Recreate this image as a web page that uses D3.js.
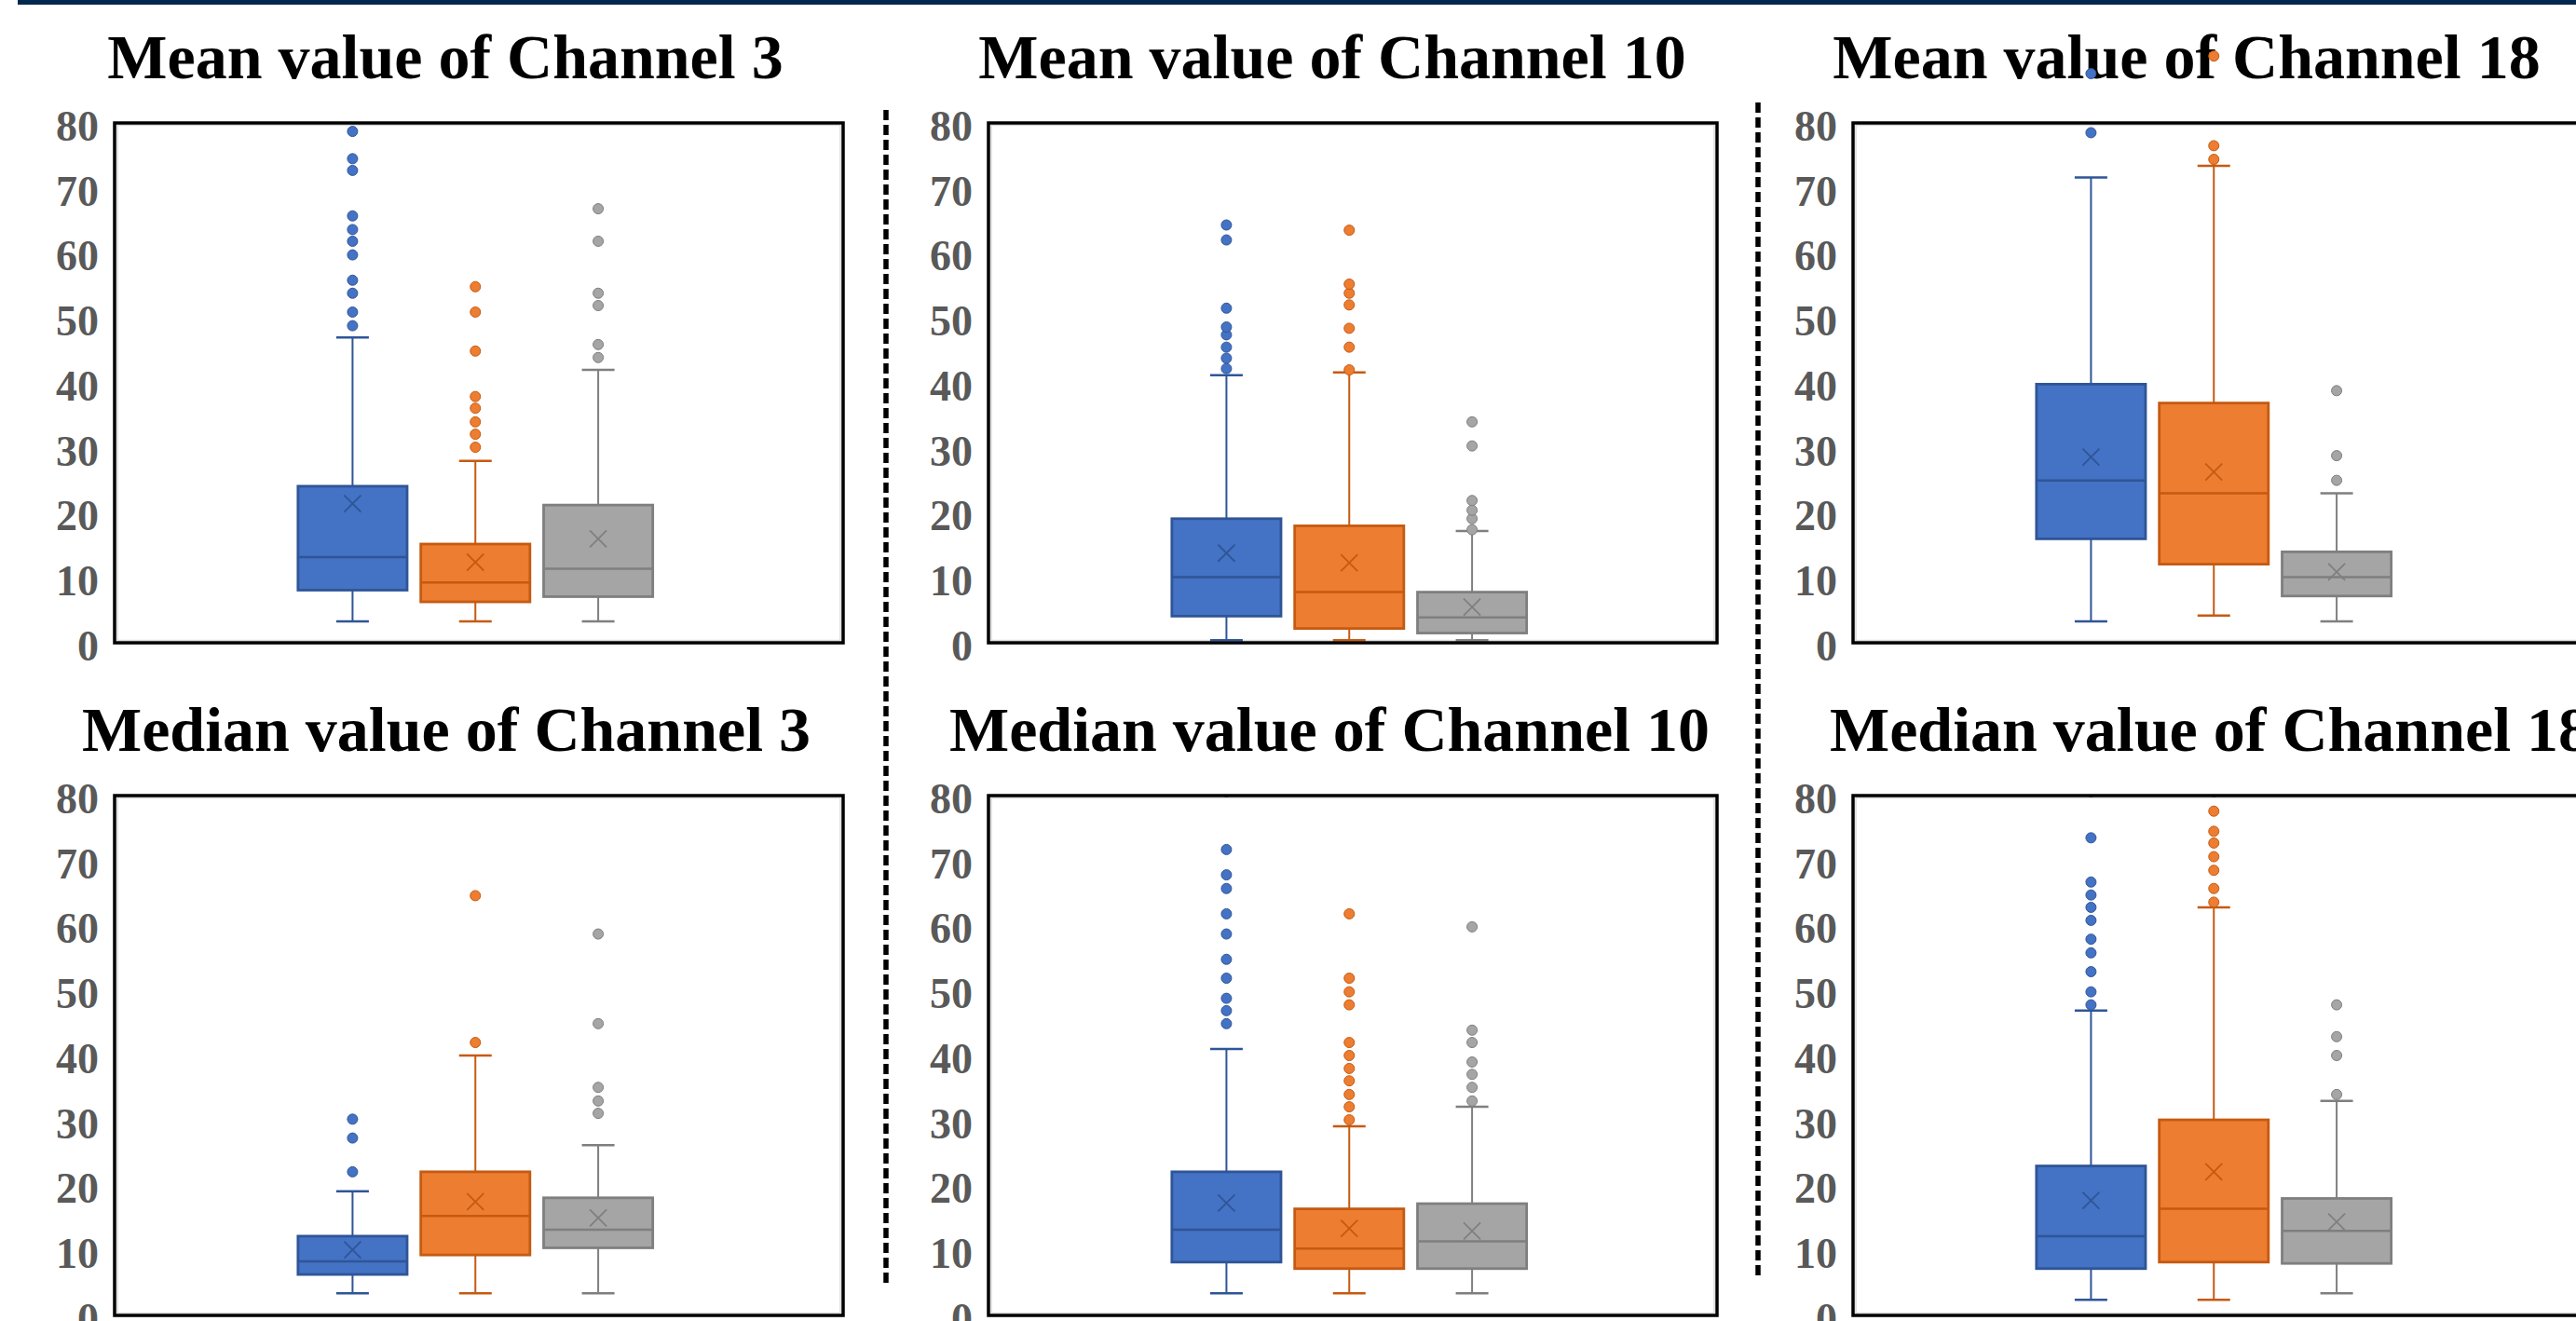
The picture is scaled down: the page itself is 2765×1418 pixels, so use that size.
<!DOCTYPE html>
<html>
<head>
<meta charset="utf-8">
<script src="https://cdn.jsdelivr.net/npm/d3@7"></script>
<style>
  body { margin: 0; background: #fff; }
  svg { display: block; }
  text { font-family: "Liberation Serif", "Times New Roman", serif; font-weight: bold; }
</style>
</head>
<body>
<div id="chart"></div>
<script>
// three groups per panel, no legend in the original
const seriesNames = ["Group A", "Group B", "Group C"];
const yTicks = [0, 10, 20, 30, 40, 50, 60, 70, 80];

const panelTitles = [
    "Mean value of Channel 3", "Mean value of Channel 10", "Mean value of Channel 18",
    "Median value of Channel 3", "Median value of Channel 10", "Median value of Channel 18"
];

// lo / hi = whisker ends, out = outliers
const meanCh3 = [
    { lo: 3.3, q1: 8.1, med: 13.2, q3: 24.1, hi: 47.0, mean: 21.4, out: [48.8, 50.9, 53.8, 55.8, 59.7, 61.8, 63.6, 65.7, 72.7, 74.5, 78.7] },
    { lo: 3.3, q1: 6.3, med: 9.3, q3: 15.2, hi: 28.0, mean: 12.4, out: [30.1, 32.1, 34.0, 36.1, 37.9, 44.9, 50.9, 54.8] },
    { lo: 3.3, q1: 7.1, med: 11.4, q3: 21.2, hi: 42.0, mean: 16.0, out: [43.9, 45.9, 51.9, 53.8, 61.8, 66.8] }
];
const meanCh10 = [
    { lo: 0.4, q1: 4.1, med: 10.1, q3: 19.1, hi: 41.2, mean: 13.8, out: [42.2, 43.8, 45.5, 47.4, 48.6, 51.5, 62.0, 64.3] },
    { lo: 0.4, q1: 2.2, med: 7.8, q3: 18.0, hi: 41.6, mean: 12.3, out: [42.0, 45.5, 48.4, 52.0, 53.8, 55.2, 63.5] },
    { lo: 0.4, q1: 1.5, med: 3.9, q3: 7.8, hi: 17.2, mean: 5.5, out: [17.4, 19.1, 20.4, 21.9, 30.3, 34.0] }
];
const meanCh18 = [
    { lo: 3.3, q1: 16.0, med: 25.0, q3: 39.8, hi: 71.6, mean: 28.6, out: [78.5, 87.6] },
    { lo: 4.2, q1: 12.1, med: 23.0, q3: 36.9, hi: 73.4, mean: 26.3, out: [74.4, 76.5, 90.3] },
    { lo: 3.3, q1: 7.2, med: 10.1, q3: 14.0, hi: 23.0, mean: 10.9, out: [25.0, 28.8, 38.8] }
];
const medianCh3 = [
    { lo: 3.4, q1: 6.3, med: 8.3, q3: 12.2, hi: 19.1, mean: 10.1, out: [22.1, 27.3, 30.2] },
    { lo: 3.4, q1: 9.3, med: 15.3, q3: 22.1, hi: 40.0, mean: 17.5, out: [42.0, 64.6] },
    { lo: 3.4, q1: 10.4, med: 13.2, q3: 18.1, hi: 26.2, mean: 15.0, out: [31.1, 33.0, 35.1, 44.9, 58.7] }
];
const medianCh10 = [
    { lo: 3.4, q1: 8.2, med: 13.2, q3: 22.1, hi: 41.0, mean: 17.3, out: [44.9, 46.9, 48.8, 51.9, 54.8, 58.7, 61.8, 65.7, 67.8, 71.7, 80.6] },
    { lo: 3.4, q1: 7.2, med: 10.3, q3: 16.4, hi: 29.1, mean: 13.4, out: [30.1, 32.1, 34.0, 36.1, 38.0, 40.0, 42.0, 47.8, 49.8, 51.9, 61.8] },
    { lo: 3.4, q1: 7.2, med: 11.4, q3: 17.2, hi: 32.1, mean: 13.0, out: [33.0, 35.1, 37.1, 39.0, 42.0, 43.9, 59.8] }
];
const medianCh18 = [
    { lo: 2.4, q1: 7.2, med: 12.2, q3: 23.0, hi: 46.9, mean: 17.7, out: [47.8, 49.8, 52.9, 55.8, 57.9, 60.8, 62.8, 64.7, 66.7, 73.5, 80.6] },
    { lo: 2.4, q1: 8.2, med: 16.4, q3: 30.1, hi: 62.8, mean: 22.1, out: [63.6, 65.7, 68.5, 70.6, 72.7, 74.5, 77.6, 80.6] },
    { lo: 3.4, q1: 8.0, med: 13.0, q3: 18.0, hi: 33.0, mean: 14.4, out: [34.0, 40.0, 42.9, 47.8] }
];

const panelData = [meanCh3, meanCh10, meanCh18, medianCh3, medianCh10, medianCh18];

const fills = ["#4472C4", "#ED7D31", "#A5A5A5"];
const strokes = ["#2F5597", "#C55A11", "#7F7F7F"];

const width = 2765, height = 1418;
const colLeft = [123, 1061, 1989];
const rowTop = [132, 854];
const plotW = 782, plotH = 558;
const titleX = [[478, 1430, 2347], [479, 1427, 2372]];
const titleY = [84, 806];

const svg = d3.select("#chart").append("svg")
    .attr("width", width)
    .attr("height", height);

// navy rule along the top
svg.append("rect")
    .attr("x", 19).attr("y", 0)
    .attr("width", width - 19).attr("height", 5)
    .attr("fill", "#03284F");

// dashed separators between columns
[[951, 118, 1377], [1887, 110, 1372]].forEach(function(s) {
    svg.append("line")
        .attr("x1", s[0]).attr("x2", s[0])
        .attr("y1", s[1]).attr("y2", s[2])
        .attr("stroke", "#000")
        .attr("stroke-width", 5.5)
        .attr("stroke-dasharray", "11,5");
});

panelData.forEach(function(stats, p) {
    const row = Math.floor(p / 3), col = p % 3;
    const L = colLeft[col], T = rowTop[row];

    const y = d3.scaleLinear().domain([0, 80]).range([T + plotH, T]);
    const x = d3.scaleBand()
        .domain(seriesNames)
        .range([L + 189.5, L + 585])
        .paddingInner(0.1)
        .paddingOuter(0.05);

    const g = svg.append("g").attr("class", "panel");

    // title
    g.append("text")
        .attr("x", titleX[row][col])
        .attr("y", titleY[row])
        .attr("text-anchor", "middle")
        .attr("font-size", 68)
        .attr("fill", "#000")
        .text(panelTitles[p]);

    // y axis labels
    const yAxis = d3.axisLeft(y).tickValues(yTicks).tickSize(0).tickPadding(17);
    const ax = g.append("g")
        .attr("transform", "translate(" + L + ",0)")
        .call(yAxis);
    ax.select(".domain").remove();
    ax.selectAll("text")
        .attr("font-size", 46)
        .attr("font-family", "'Liberation Serif', 'Times New Roman', serif")
        .attr("font-weight", "bold")
        .attr("fill", "#595959")
        .attr("dy", "0.4em");

    // faint inner plot-area line
    g.append("rect")
        .attr("x", L + 3).attr("y", T + 2.5)
        .attr("width", plotW - 6).attr("height", plotH - 5)
        .attr("fill", "none")
        .attr("stroke", "#d9d9d9")
        .attr("stroke-width", 1.5);

    // clip for everything except the Channel 18 mean chart, whose points spill over the title
    const clipId = "clip" + p;
    svg.append("clipPath").attr("id", clipId)
        .append("rect")
        .attr("x", L).attr("y", T)
        .attr("width", plotW).attr("height", plotH);

    const marks = g.append("g");
    if (p !== 2) marks.attr("clip-path", "url(#" + clipId + ")");

    const boxes = marks.selectAll("g.box")
        .data(stats)
        .enter().append("g")
        .attr("class", "box");

    const cx = (d, i) => x(seriesNames[i]) + x.bandwidth() / 2;
    const capHalf = 17.5;

    // whiskers
    boxes.append("line")
        .attr("x1", cx).attr("x2", cx)
        .attr("y1", d => y(d.lo)).attr("y2", d => y(d.q1))
        .attr("stroke", (d, i) => strokes[i]).attr("stroke-width", 2);
    boxes.append("line")
        .attr("x1", cx).attr("x2", cx)
        .attr("y1", d => y(d.q3)).attr("y2", d => y(d.hi))
        .attr("stroke", (d, i) => strokes[i]).attr("stroke-width", 2);
    boxes.append("line")
        .attr("x1", (d, i) => cx(d, i) - capHalf).attr("x2", (d, i) => cx(d, i) + capHalf)
        .attr("y1", d => y(d.lo)).attr("y2", d => y(d.lo))
        .attr("stroke", (d, i) => strokes[i]).attr("stroke-width", 2.5);
    boxes.append("line")
        .attr("x1", (d, i) => cx(d, i) - capHalf).attr("x2", (d, i) => cx(d, i) + capHalf)
        .attr("y1", d => y(d.hi)).attr("y2", d => y(d.hi))
        .attr("stroke", (d, i) => strokes[i]).attr("stroke-width", 2.5);

    // box
    boxes.append("rect")
        .attr("x", (d, i) => x(seriesNames[i]) + 0.75)
        .attr("y", d => y(d.q3))
        .attr("width", x.bandwidth() - 1.5)
        .attr("height", d => y(d.q1) - y(d.q3))
        .attr("fill", (d, i) => fills[i])
        .attr("stroke", (d, i) => strokes[i])
        .attr("stroke-width", 2.8);

    // median
    boxes.append("line")
        .attr("x1", (d, i) => x(seriesNames[i]) + 0.75)
        .attr("x2", (d, i) => x(seriesNames[i]) + x.bandwidth() - 0.75)
        .attr("y1", d => y(d.med)).attr("y2", d => y(d.med))
        .attr("stroke", (d, i) => strokes[i]).attr("stroke-width", 2.5);

    // mean marker (x)
    const mk = 9;
    boxes.append("path")
        .attr("d", function(d, i) {
            const px = cx(d, i), py = y(d.mean);
            return "M" + (px - mk) + "," + (py - mk) + "L" + (px + mk) + "," + (py + mk) +
                   "M" + (px - mk) + "," + (py + mk) + "L" + (px + mk) + "," + (py - mk);
        })
        .attr("stroke", (d, i) => strokes[i])
        .attr("stroke-width", 1.8)
        .attr("fill", "none");

    // outliers
    boxes.each(function(d, i) {
        d3.select(this).selectAll("circle")
            .data(d.out)
            .enter().append("circle")
            .attr("cx", cx(d, i))
            .attr("cy", v => y(v))
            .attr("r", 5.5)
            .attr("fill", fills[i])
            .attr("stroke", strokes[i])
            .attr("stroke-width", 1);
    });

    // black frame on top
    g.append("rect")
        .attr("x", L).attr("y", T)
        .attr("width", plotW).attr("height", plotH)
        .attr("fill", "none")
        .attr("stroke", "#000")
        .attr("stroke-width", 3.5);
});
</script>
</body>
</html>
